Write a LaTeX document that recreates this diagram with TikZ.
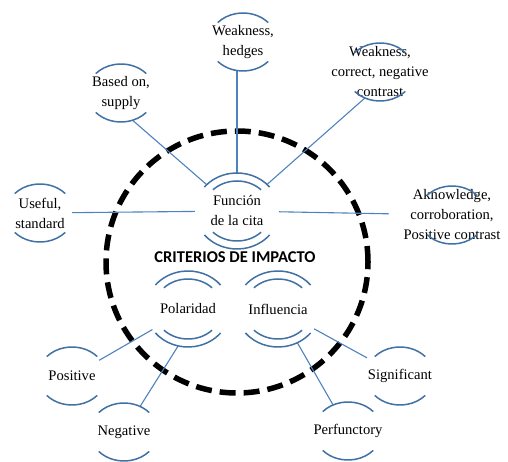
\documentclass[tikz,border=0pt]{standalone}
\usepackage{fontspec}
\setmainfont{Liberation Serif}
\newfontfamily\timesrm{Liberation Serif}
\newfontfamily\calibri{Carlito}
\usetikzlibrary{calc,shapes.geometric}
\definecolor{ringblue}{RGB}{65,113,164}
\definecolor{linkblue}{RGB}{79,129,189}
\newcommand\caps[4]{%
  \draw[ring] ($(#1)+(#4:#2 and #3)$) arc[start angle=#4,end angle=180-#4,x radius=#2,y radius=#3]
              ($(#1)+(180+#4:#2 and #3)$) arc[start angle=180+#4,end angle=360-#4,x radius=#2,y radius=#3];}

\begin{document}
\begin{tikzpicture}[x=1pt,y=1pt,
    lbl/.style={shape=ellipse,inner sep=-30pt,minimum width=64pt,minimum height=58pt,
                align=center,font=\timesrm\fontsize{14.6}{20}\selectfont},
    hub/.style={lbl,minimum width=84pt,minimum height=76pt},
    ring/.style={draw=ringblue,line width=1.5pt},
    link/.style={draw=linkblue,line width=1.1pt}]
\useasboundingbox (0,0) rectangle (508,462);

\draw[line width=5.5pt,dash pattern=on 16pt off 8pt] (237,200) circle[radius=131pt];

\node[hub] (funcion) at (237,251) {Función\\de la cita};
\node[hub] (polaridad) at (188,153) {Polaridad};
\node[hub] (influencia) at (278,153) {Influencia};
\node[font=\calibri\bfseries\fontsize{16.5}{18}\selectfont] (criterios) at (235,205) {CRITERIOS DE IMPACTO};

\node[lbl] (hedges) at (243,420) {Weakness,\\hedges};
\node[lbl] (negcontrast) at (380,390) {Weakness,\\correct, negative\\contrast};
\node[lbl] (basedon) at (121,369) {Based on,\\supply};
\node[lbl] (useful) at (40,249) {Useful,\\standard};
\node[lbl,minimum width=126pt] (aknow) at (452,247) {Aknowledge,\\corroboration,\\Positive contrast};
\node[lbl] (positive) at (72,86) {Positive};
\node[lbl] (negative) at (124,30) {Negative};
\node[lbl,minimum width=84pt] (significant) at (400,86) {Significant};
\node[lbl] (perfunctory) at (348,31) {Perfunctory};

\draw[link] (funcion.north) -- (funcion.north |- hedges.south);
\draw[link] (funcion) -- (basedon.-67);
\draw[link] (funcion) -- (negcontrast.240);
\draw[link] (useful) -- (funcion);
\draw[link] (funcion) -- (aknow);
\draw[link] (polaridad) -- (positive);
\draw[link] (polaridad.255) -- (negative);
\draw[link] (influencia) -- (significant);
\draw[link] (influencia) -- (perfunctory);

\caps{funcion}{42pt}{38pt}{39}
\caps{funcion}{34pt}{30pt}{45}
\caps{polaridad}{42pt}{38pt}{39}
\caps{polaridad}{34pt}{30pt}{45}
\caps{influencia}{42pt}{38pt}{39}
\caps{influencia}{34pt}{30pt}{45}
\caps{hedges}{34pt}{29pt}{42}
\caps{negcontrast}{34pt}{29pt}{42}
\caps{basedon}{34pt}{29pt}{42}
\caps{useful}{34pt}{29pt}{42}
\caps{aknow}{34pt}{29pt}{42}
\caps{positive}{34pt}{29pt}{42}
\caps{negative}{34pt}{29pt}{42}
\caps{significant}{34pt}{29pt}{42}
\caps{perfunctory}{34pt}{29pt}{42}
\end{tikzpicture}
\end{document}
